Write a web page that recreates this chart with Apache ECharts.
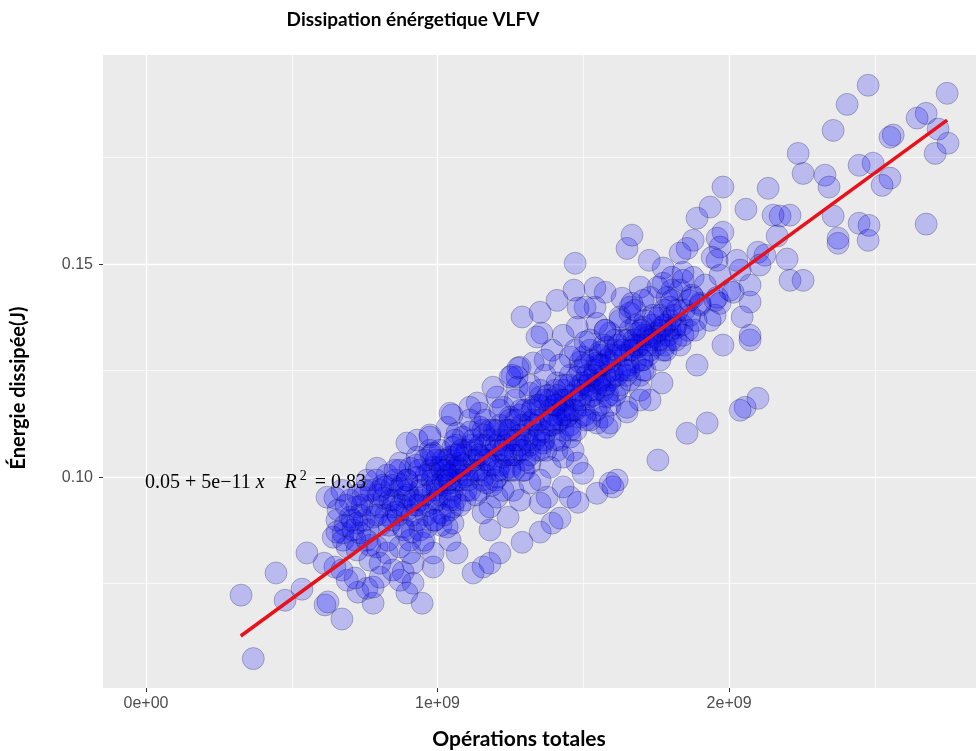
<!DOCTYPE html>
<html>
<head>
<meta charset="utf-8">
<script src="https://cdn.jsdelivr.net/npm/echarts@6/dist/echarts.min.js"></script>
<style>
html,body{margin:0;padding:0;background:#ffffff;}
#chart{width:976px;height:751px;}
</style>
</head>
<body>
<div id="chart"></div>
<script>
// ---------- texts ----------
const chartTitle = 'Dissipation énérgetique VLFV';
const xAxisTitle = 'Opérations totales';
const yAxisTitle = 'Énergie dissipée(J)';
const equationText = ['0.05 + 5e\u221211 ', 'x', 'R', '2', ' = 0.83'];

// ---------- ticks ----------
const xTickValues = [0, 1e9, 2e9];
const xTickLabels = ['0e+00', '1e+09', '2e+09'];
const yTickValues = [0.10, 0.15];
const yTickLabels = ['0.10', '0.15'];

// ---------- data: [total operations (billions), dissipated energy (J)] ----------
const highOutliers = [
  [2.477,0.1920],[2.748,0.1901],[2.405,0.1875],[2.357,0.1814],[2.645,0.1843],[2.676,0.1854],
  [2.717,0.1817],[2.563,0.1803],[2.552,0.1798],[2.237,0.1760],[2.254,0.1713],[2.329,0.1709],
  [2.343,0.1681],[2.446,0.1732],[2.494,0.1737],[2.552,0.1702],[2.525,0.1685],[2.707,0.1760],
  [2.751,0.1784],[2.209,0.1615],[2.175,0.1613],[2.357,0.1613],[2.446,0.1596],[2.480,0.1591],
  [2.374,0.1561],[2.374,0.1549],[2.477,0.1556],[2.676,0.1594],[2.199,0.1512],[2.209,0.1462],
  [2.254,0.1462],[1.979,0.1681],[2.134,0.1678],[1.935,0.1634],[2.058,0.1629],[1.890,0.1608],
  [2.151,0.1615],[2.165,0.1566],[1.667,0.1568],[1.650,0.1537],[1.726,0.1509],[1.979,0.1575],
  [1.877,0.1556],[1.856,0.1537],[1.832,0.1526],[1.959,0.1561],[1.969,0.1540],[1.942,0.1516],
  [1.959,0.1509],[2.027,0.1509],[2.099,0.1528],[2.123,0.1521],[1.472,0.1502]
];
const upperRight = [
  [1.774,0.1491],[1.804,0.1469],[1.842,0.1481],[1.877,0.1469],[1.756,0.1446],[1.804,0.1439],
  [1.832,0.1439],[1.540,0.1444],[1.575,0.1434],[1.506,0.1399],[1.540,0.1399],[1.633,0.1420],
  [1.667,0.1408],[1.695,0.1446],[1.729,0.1422],[1.787,0.1422],[1.798,0.1399],[1.877,0.1422],
  [1.901,0.1408],[1.959,0.1422],[1.969,0.1408],[2.014,0.1434],[1.952,0.1380],[2.072,0.1411],
  [2.045,0.1376],[2.072,0.1333],[2.072,0.1322],[1.979,0.1310],[1.890,0.1263],[2.055,0.1164],
  [2.038,0.1157],[2.099,0.1185],[1.925,0.1127],[1.798,0.1345],[1.770,0.1352],[1.705,0.1352],
  [1.688,0.1338],[1.770,0.1221],[1.729,0.1181],[1.650,0.1153],[1.557,0.1221],[1.523,0.1204],
  [1.660,0.1298],[1.702,0.1275],[1.592,0.1338],[1.581,0.1305],[1.626,0.1376],[1.660,0.1385],
  [1.746,0.1329],[1.774,0.1298],[1.547,0.1268],[1.499,0.1282],[1.602,0.1235],[1.616,0.1204],
  [1.695,0.1204],[1.290,0.1376],[1.352,0.1387],[1.410,0.1415],[1.468,0.1439],[1.482,0.1397],
  [1.358,0.1338],[1.341,0.1329],[1.431,0.1333],[1.479,0.1352],[1.547,0.1361],[1.575,0.1345],
  [1.660,0.1399],[1.705,0.1415],[1.774,0.1455],[1.842,0.1462],[1.815,0.1350],[1.719,0.1329],
  [1.650,0.1322],[1.684,0.1305],[1.609,0.1298],[1.506,0.1317],[1.523,0.1298],[1.393,0.1298],
  [1.369,0.1275],[1.283,0.1258],[1.273,0.1235],[1.328,0.1268],[1.455,0.1282],[1.489,0.1270],
  [1.557,0.1293],[1.581,0.1275],[1.705,0.1251],[1.581,0.1188],[1.756,0.1040],[1.856,0.1103],
  [1.695,0.1181],[1.547,0.1127],[1.581,0.1117],[1.650,0.1164]
];
const middleBand = [
  [1.190,0.1211],[1.204,0.1188],[1.249,0.1235],[1.273,0.1211],[1.050,0.1146],[1.136,0.1174],
  [1.146,0.1150],[1.225,0.1164],[1.249,0.1141],[1.317,0.1197],[1.328,0.1164],[1.352,0.1188],
  [1.410,0.1221],[1.431,0.1204],[1.386,0.1181],[1.479,0.1235],[1.499,0.1221],[1.547,0.1221],
  [1.568,0.1204],[1.523,0.1188],[1.465,0.1157],[1.489,0.1141],[1.523,0.1134],[1.568,0.1141],
  [1.592,0.1127],[1.431,0.1164],[1.444,0.1141],[1.087,0.1094],[1.101,0.1063],[1.043,0.1047],
  [1.009,0.1023],[1.156,0.1110],[1.180,0.1087],[1.204,0.1063],[1.249,0.1110],[1.273,0.1087],
  [1.293,0.1063],[1.317,0.1127],[1.352,0.1110],[1.362,0.1080],[1.410,0.1127],[1.431,0.1110],
  [1.455,0.1094],[1.410,0.1063],[1.431,0.1047],[1.465,0.1063],[1.479,0.1033],[1.499,0.1009],
  [1.386,0.1023],[1.352,0.0993],[1.317,0.0986],[1.317,0.1033],[1.293,0.1016],[1.225,0.1047],
  [1.249,0.1023],[1.204,0.1000],[1.146,0.1047],[1.136,0.1016],[1.170,0.0986],[1.431,0.0977],
  [1.455,0.0953],[1.482,0.0941],[1.547,0.0962],[1.592,0.0986],[1.616,0.0993],[1.376,0.0953],
  [1.352,0.0939],[1.077,0.1033],[1.087,0.1000],[1.043,0.0986],[0.998,0.0969],[0.974,0.1063],
  [0.985,0.1023],[1.259,0.0969],[1.283,0.0946],[1.204,0.0953],[1.180,0.0930],[1.602,0.0977],
  [1.420,0.0904],[1.393,0.0892],[1.352,0.0871],[1.290,0.0847],[1.214,0.0822],[1.242,0.0906],
  [1.180,0.0876],[1.225,0.0969],[1.156,0.0916],[1.256,0.1239],[1.276,0.1256],[1.111,0.1164],
  [0.974,0.1099],[1.033,0.1117],[1.067,0.1103],[1.111,0.1134],[1.146,0.1117]
];
const lowerLeft = [
  [0.326,0.0723],[0.368,0.0574],[0.446,0.0775],[0.477,0.0711],[0.535,0.0737],[0.552,0.0822],
  [0.611,0.0798],[0.614,0.0700],[0.624,0.0707],[0.672,0.0667],[0.947,0.0704],[0.779,0.0704],
  [0.727,0.0730],[0.758,0.0739],[0.690,0.0758],[0.717,0.0763],[0.672,0.0782],[0.648,0.0789],
  [0.621,0.0953],[0.648,0.0951],[0.655,0.0899],[0.655,0.0871],[0.642,0.0859],[0.676,0.0852],
  [0.985,0.0789],[0.916,0.0798],[0.882,0.0777],[0.847,0.0782],[1.043,0.1150],[0.930,0.1087],
  [0.974,0.1094],[0.792,0.1021],[0.827,0.1005],[0.871,0.0974],[0.895,0.0969],[0.744,0.0953],
  [0.724,0.0930],[0.803,0.0930],[0.779,0.0906],[0.724,0.0892],[0.734,0.0869],[0.690,0.0836],
  [0.724,0.0829],[0.758,0.0852],[0.792,0.0836],[0.827,0.0822],[0.768,0.0805],[0.803,0.0798],
  [0.871,0.0836],[0.906,0.0822],[0.950,0.0845],[0.985,0.0822],[1.043,0.0852],[1.067,0.0822],
  [0.847,0.0899],[0.882,0.0883],[0.930,0.0899],[0.964,0.0883],[1.009,0.0916],[1.033,0.0883],
  [0.847,0.0930],[0.895,0.0923],[0.940,0.0946],[0.985,0.0939],[0.895,0.0993],[0.930,0.1000],
  [0.985,0.1009],[1.019,0.0993],[0.871,0.1033],[0.930,0.1047],[0.985,0.1056],[1.033,0.1040],
  [1.053,0.1070],[0.895,0.1080],[0.758,0.0993],[0.803,0.0969],[0.985,0.0969],[1.043,0.0953],
  [1.053,0.0930],[1.053,0.0892],[0.820,0.0977],[0.700,0.0906],[0.676,0.0869],[0.916,0.0751],
  [0.895,0.0728],[0.779,0.0742],[0.803,0.0765],[0.871,0.0758],[1.067,0.0993],[1.067,0.1023],
  [1.122,0.0775],[1.156,0.0789],[1.180,0.0798]
];
const denseCore = [
  [0.837,0.0946],[0.864,0.0911],[0.888,0.0953],[0.913,0.0871],[0.923,0.0934],[0.947,0.0981],
  [0.961,0.0911],[0.974,0.1016],[0.998,0.0946],[1.012,0.0887],[1.026,0.0981],[1.043,0.1028],
  [1.060,0.0946],[1.077,0.0993],[1.094,0.1052],[1.111,0.0969],[1.125,0.1016],[1.146,0.1075],
  [1.163,0.1005],[1.180,0.1052],[1.194,0.1110],[1.214,0.1028],[1.232,0.1075],[1.249,0.1134],
  [1.266,0.1052],[1.283,0.1099],[1.300,0.1157],[1.317,0.1075],[1.334,0.1122],[1.352,0.1169],
  [1.369,0.1106],[1.386,0.1157],[1.403,0.1204],[1.420,0.1134],[1.437,0.1181],[1.455,0.1239],
  [1.472,0.1181],[1.489,0.1216],[1.506,0.1263],[1.523,0.1228],[1.540,0.1251],[1.557,0.1286],
  [1.575,0.1239],[1.592,0.1270],[1.609,0.1322],[1.626,0.1251],[1.643,0.1286],[1.660,0.1345],
  [1.678,0.1270],[1.695,0.1310],[1.712,0.1368],[1.729,0.1298],[1.746,0.1338],[1.763,0.1380],
  [1.780,0.1310],[1.798,0.1368],[1.818,0.1322],
  [0.854,0.0993],[0.906,0.1021],[0.957,0.1040],[1.009,0.1063],[1.060,0.1087],[1.111,0.1106],
  [1.163,0.1134],[1.214,0.1157],[1.266,0.1181],[1.317,0.1216],[1.369,0.1239],[1.420,0.1263],
  [1.472,0.1298],[1.523,0.1322],[1.575,0.1345],[1.626,0.1368],[1.678,0.1392],
  [0.940,0.0876],[0.991,0.0899],[1.043,0.0923],[1.094,0.0946],[1.146,0.0969],[1.197,0.0993],
  [1.249,0.1016],[1.300,0.1040],[1.352,0.1063],[1.403,0.1087],[1.455,0.1122],[1.506,0.1146],
  [1.557,0.1169],[1.609,0.1192],[1.660,0.1228],[1.712,0.1251],[1.763,0.1275],
  [1.129,0.1063],[1.232,0.1110],[1.283,0.1146],[1.334,0.1087],[1.386,0.1122],[1.437,0.1157],
  [1.283,0.1063],[1.214,0.1087],[1.163,0.1040],[1.077,0.1016],[1.026,0.1016],[1.060,0.1052],
  [1.352,0.1204],[1.403,0.1169],[1.489,0.1181],[1.540,0.1204],[1.592,0.1228],[1.643,0.1251]
];
const coreAlongFit = [
  [0.659,0.0923],[0.683,0.0887],[0.700,0.0946],[0.717,0.0852],[0.734,0.0911],[0.751,0.0969],
  [0.762,0.0876],[0.775,0.0934],[0.789,0.0993],[0.803,0.0887],[0.816,0.0951],[0.830,0.0852],
  [0.844,0.0981],[0.858,0.0918],[0.871,0.1016],[0.885,0.0876],[0.899,0.0958],[0.913,0.0911],
  [0.926,0.1028],[0.940,0.0969],[0.954,0.0852],[0.967,0.0934],[0.981,0.0993],[0.995,0.1040],
  [1.009,0.0958],[1.022,0.0911],[1.036,0.1005],[1.050,0.0969],[1.063,0.1075],[1.077,0.0934],
  [1.091,0.1028],[1.105,0.0993],[1.118,0.1075],[1.132,0.0958],[1.146,0.1016],[1.160,0.1099],
  [1.173,0.1040],[1.187,0.0981],[1.201,0.1075],[1.214,0.1122],[1.228,0.1016],[1.242,0.1087],
  [1.256,0.1052],[1.269,0.1134],[1.283,0.1075],[1.297,0.1016],[1.310,0.1110],[1.324,0.1157],
  [1.338,0.1063],[1.352,0.1134],[1.365,0.1087],[1.379,0.1192],[1.393,0.1122],[1.407,0.1169],
  [1.420,0.1087],[1.434,0.1216],[1.448,0.1146],[1.461,0.1192],[1.475,0.1110],[1.489,0.1251],
  [1.503,0.1169],[1.516,0.1216],[1.530,0.1275],[1.544,0.1157],[1.557,0.1228],[1.571,0.1310],
  [1.585,0.1192],[1.599,0.1251],[1.612,0.1286],[1.626,0.1216],[1.640,0.1322],[1.654,0.1263],
  [1.667,0.1298],[1.681,0.1357],[1.695,0.1239],[1.708,0.1333],[1.722,0.1286],[1.736,0.1357],
  [1.750,0.1310],[1.763,0.1345],[1.777,0.1392],[1.791,0.1333],[1.804,0.1415],[1.818,0.1357],
  [1.832,0.1310],[1.846,0.1392],[1.859,0.1345],[1.873,0.1427],[1.887,0.1368],[1.901,0.1404],
  [1.918,0.1451],[1.935,0.1368],[1.952,0.1415],[1.969,0.1474],[2.003,0.1439],[2.038,0.1486],
  [2.072,0.1451],[2.106,0.1498]
];
const coreSecondLayer = [
  [0.672,0.0969],[0.707,0.0899],[0.741,0.0934],[0.768,0.0840],[0.796,0.0958],[0.823,0.0911],
  [0.851,0.0946],[0.878,0.0981],[0.906,0.0852],[0.933,0.0934],[0.961,0.1005],[0.988,0.0899],
  [1.015,0.1016],[1.043,0.0946],[1.070,0.1052],[1.098,0.0969],[1.125,0.1040],[1.153,0.0993],
  [1.180,0.1110],[1.208,0.1016],[1.235,0.1052],[1.262,0.1016],[1.290,0.1122],[1.317,0.1052],
  [1.345,0.1169],[1.372,0.1063],[1.400,0.1146],[1.427,0.1181],[1.455,0.1110],[1.482,0.1204],
  [1.509,0.1134],[1.537,0.1239],[1.564,0.1263],[1.592,0.1169],[1.619,0.1310],[1.647,0.1239],
  [1.674,0.1322],[1.702,0.1275],[1.729,0.1322],[1.756,0.1373],[1.784,0.1298],[1.811,0.1380],
  [1.839,0.1357],[1.866,0.1380]
];
const coreThirdLayer = [
  [0.686,0.0934],[0.710,0.0876],[0.727,0.0958],[0.748,0.0899],[0.772,0.0969],[0.792,0.0911],
  [0.813,0.0981],[0.834,0.0887],[0.854,0.1016],[0.875,0.0934],[0.895,0.0993],[0.916,0.0946],
  [0.937,0.1016],[0.957,0.0958],[0.978,0.1052],[0.998,0.0981],[1.019,0.1040],[1.039,0.0993],
  [1.060,0.1016],[1.081,0.1063],[1.101,0.1005],[1.122,0.1087],[1.142,0.1052],[1.163,0.1075],
  [1.184,0.1028],[1.204,0.1110],[1.225,0.1063],[1.245,0.1110],[1.266,0.1087],[1.286,0.1157],
  [1.307,0.1087],[1.328,0.1134],[1.348,0.1099],[1.369,0.1181],[1.389,0.1134],[1.410,0.1192],
  [1.431,0.1146],[1.451,0.1216],[1.472,0.1157],[1.492,0.1192],[1.513,0.1239],[1.533,0.1192],
  [1.554,0.1263],[1.575,0.1216],[1.595,0.1286],[1.616,0.1239],[1.636,0.1298],[1.657,0.1251],
  [1.678,0.1310],[1.698,0.1345],[1.719,0.1310],[1.739,0.1380],[1.760,0.1322],[1.780,0.1357],
  [1.801,0.1322],[1.822,0.1392],[1.842,0.1333],[1.863,0.1415],[1.883,0.1345]
];

// regression line end points (billions of ops, J)
const fitOps = [0.325, 2.748];
const fitEnergy = [0.0627, 0.1838];

const OPS_UNIT = 1e9;
const allPoints = [].concat(highOutliers, upperRight, middleBand, lowerLeft, denseCore,
  coreAlongFit, coreSecondLayer, coreThirdLayer).map(p => [p[0] * OPS_UNIT, p[1]]);
const fitLine = fitOps.map((v, i) => [v * OPS_UNIT, fitEnergy[i]]);

const chart = echarts.init(document.getElementById('chart'), null, {renderer: 'canvas'});

const labelFont = 'Liberation Sans';
const titleFont = 'Lato';

chart.setOption({
  animation: false,
  backgroundColor: '#ffffff',
  grid: {
    left: 103, right: 0, top: 55, bottom: 63,
    show: true, backgroundColor: '#ebebeb', borderWidth: 0
  },
  xAxis: {
    type: 'value',
    min: -1.475e8, max: 2.847e9,
    splitNumber: 3,
    axisLine: {show: false, onZero: false},
    axisTick: {show: true, length: 4, lineStyle: {color: '#333333', width: 1}, customValues: xTickValues},
    axisLabel: {
      customValues: xTickValues,
      color: '#4d4d4d', fontSize: 16, fontFamily: labelFont, margin: 8,
      formatter: v => { const i = xTickValues.findIndex(t => Math.abs(t - v) < 1); return i >= 0 ? xTickLabels[i] : ''; }
    },
    splitLine: {show: true, lineStyle: {color: '#ffffff', width: 1.4}},
    minorTick: {show: false, splitNumber: 2},
    minorSplitLine: {show: true, lineStyle: {color: '#ffffff', width: 0.7}}
  },
  yAxis: {
    type: 'value',
    min: 0.0505, max: 0.1991,
    splitNumber: 3,
    axisLine: {show: false, onZero: false},
    axisTick: {show: true, length: 4, lineStyle: {color: '#333333', width: 1}, customValues: yTickValues},
    axisLabel: {
      customValues: yTickValues,
      color: '#4d4d4d', fontSize: 16, fontFamily: labelFont, margin: 10,
      formatter: v => { const i = yTickValues.findIndex(t => Math.abs(t - v) < 1e-9); return i >= 0 ? yTickLabels[i] : ''; }
    },
    splitLine: {show: true, lineStyle: {color: '#ffffff', width: 1.4}},
    minorTick: {show: false, splitNumber: 2},
    minorSplitLine: {show: true, lineStyle: {color: '#ffffff', width: 0.7}}
  },
  series: [
    {
      type: 'scatter',
      data: allPoints,
      symbol: 'circle',
      symbolSize: 22,
      itemStyle: {color: 'rgba(0,0,255,0.26)', borderColor: 'rgba(0,0,40,0.3)', borderWidth: 1},
      emphasis: {disabled: true},
      z: 2
    },
    {
      type: 'line',
      data: fitLine,
      showSymbol: false,
      symbol: 'none',
      lineStyle: {color: '#e8121b', width: 3.5},
      emphasis: {disabled: true},
      z: 3
    }
  ],
  graphic: [
    {
      type: 'text', z: 10,
      style: {text: chartTitle, x: 413, y: 20, align: 'center', verticalAlign: 'middle',
        font: 'bold 19px ' + titleFont, fill: '#000000'}
    },
    {
      type: 'text', z: 10,
      style: {text: xAxisTitle, x: 519, y: 739, align: 'center', verticalAlign: 'middle',
        font: 'bold 21px ' + titleFont, fill: '#000000'}
    },
    {
      type: 'text', z: 10, x: 19, y: 388, rotation: Math.PI / 2,
      style: {text: yAxisTitle, x: 0, y: 0, align: 'center', verticalAlign: 'middle',
        font: 'bold 20px ' + titleFont, fill: '#000000'}
    },
    {
      type: 'text', z: 10,
      style: {
        x: 145, y: 481, align: 'left', verticalAlign: 'middle',
        text: '{n|' + equationText[0] + '}{i|' + equationText[1] + '}{n|    }{i|' + equationText[2] + '}{s|' + equationText[3] + '}{n|' + equationText[4] + '}',
        rich: {
          n: {fontFamily: 'Liberation Serif', fontSize: 20, color: '#1a1a1a', lineHeight: 24, verticalAlign: 'bottom'},
          i: {fontFamily: 'Liberation Serif', fontSize: 20, fontStyle: 'italic', color: '#1a1a1a', lineHeight: 24, verticalAlign: 'bottom'},
          s: {fontFamily: 'Liberation Serif', fontSize: 14, color: '#1a1a1a', lineHeight: 16, verticalAlign: 'top', padding: [0, 3, 0, 3]}
        }
      }
    }
  ]
});
</script>
</body>
</html>
